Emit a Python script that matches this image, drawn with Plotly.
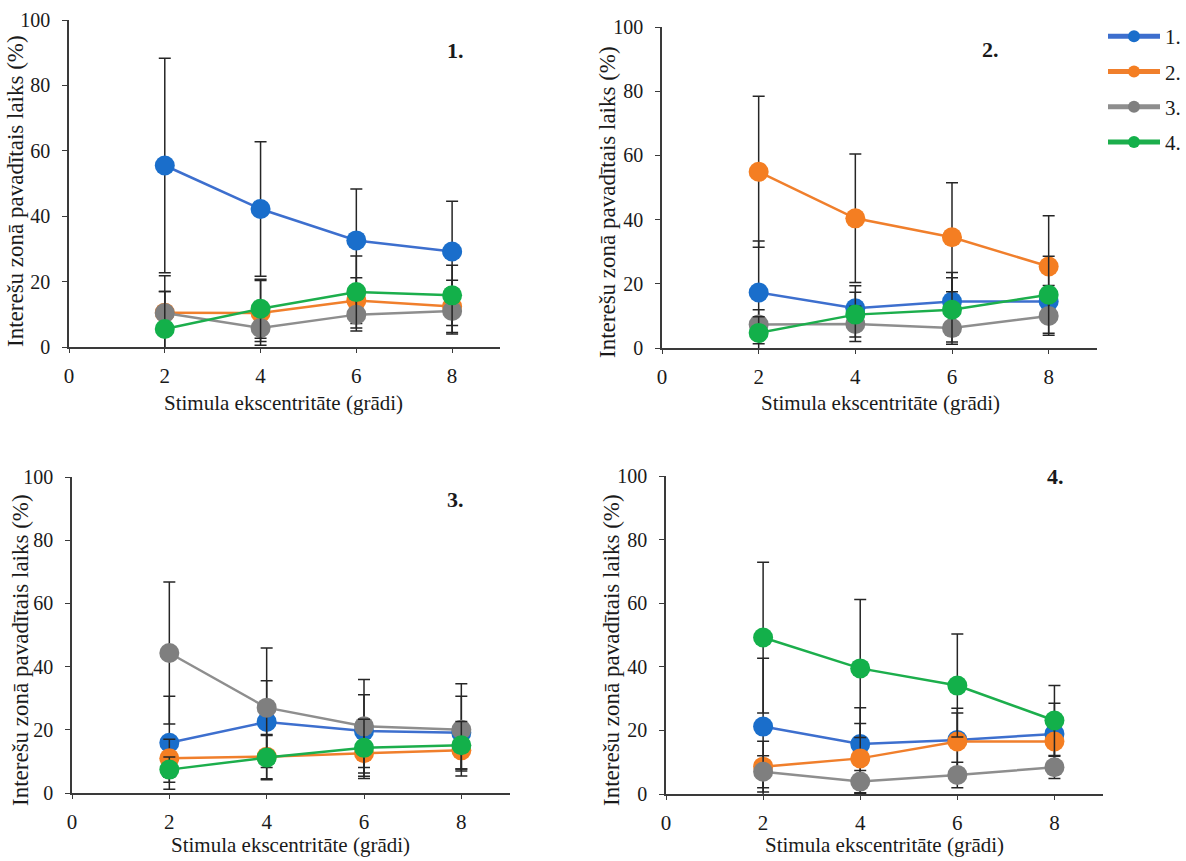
import plotly.graph_objects as go

x_vals = [2, 4, 6, 8]
series_names = ["1.", "2.", "3.", "4."]
panel_labels = ["1.", "2.", "3.", "4."]
x_ticks = [0, 2, 4, 6, 8]
y_ticks = [0, 20, 40, 60, 80, 100]

# Panel 1
p1_s1 = [55.5, 42.2, 32.6, 29.2]
p1_s1_err = [32.8, 20.6, 15.7, 15.4]
p1_s2 = [10.5, 10.4, 14.2, 12.4]
p1_s2_err = [11.3, 9.9, 7.0, 8.0]
p1_s3 = [10.4, 5.8, 9.9, 11.0]
p1_s3_err = [6.6, 4.1, 5.0, 7.0]
p1_s4 = [5.5, 11.7, 16.8, 15.8]
p1_s4_err = [11.5, 9.0, 11.0, 9.2]

# Panel 2
p2_s1 = [17.3, 12.4, 14.5, 14.5]
p2_s1_err = [16.0, 7.0, 9.0, 5.0]
p2_s2 = [54.9, 40.4, 34.5, 25.4]
p2_s2_err = [23.5, 20.0, 17.0, 15.8]
p2_s3 = [7.3, 7.5, 6.2, 10.0]
p2_s3_err = [4.6, 5.5, 5.0, 6.0]
p2_s4 = [4.7, 10.4, 11.9, 16.6]
p2_s4_err = [5.0, 7.0, 10.0, 12.0]

# Panel 3
p3_s1 = [15.9, 22.5, 19.6, 19.1]
p3_s1_err = [14.7, 13.0, 11.5, 11.5]
p3_s2 = [11.0, 11.5, 12.6, 13.5]
p3_s2_err = [6.0, 7.0, 8.0, 6.5]
p3_s3 = [44.3, 27.0, 21.1, 20.0]
p3_s3_err = [22.5, 18.9, 14.8, 14.6]
p3_s4 = [7.4, 11.2, 14.3, 15.1]
p3_s4_err = [4.0, 7.0, 9.0, 7.5]

# Panel 4
p4_s1 = [21.2, 15.7, 17.0, 18.9]
p4_s1_err = [21.5, 11.4, 10.0, 9.6]
p4_s2 = [8.6, 11.2, 16.5, 16.5]
p4_s2_err = [8.0, 11.0, 9.0, 8.0]
p4_s3 = [7.0, 3.9, 6.0, 8.4]
p4_s3_err = [5.0, 3.5, 4.0, 3.5]
p4_s4 = [49.2, 39.5, 34.1, 23.1]
p4_s4_err = [23.7, 21.7, 16.2, 11.0]

panels = [
    [(p1_s1, p1_s1_err), (p1_s2, p1_s2_err), (p1_s3, p1_s3_err), (p1_s4, p1_s4_err)],
    [(p2_s1, p2_s1_err), (p2_s2, p2_s2_err), (p2_s3, p2_s3_err), (p2_s4, p2_s4_err)],
    [(p3_s1, p3_s1_err), (p3_s2, p3_s2_err), (p3_s3, p3_s3_err), (p3_s4, p3_s4_err)],
    [(p4_s1, p4_s1_err), (p4_s2, p4_s2_err), (p4_s3, p4_s3_err), (p4_s4, p4_s4_err)],
]

line_colors = ["#3d6fce", "#f07f2c", "#8e8e8e", "#1cae4c"]
marker_colors = ["#1a6ecb", "#f47e22", "#7f7f7f", "#13b04a"]

W, H = 1186, 861
# axes boxes in pixels: (left, right, top, bottom)
boxes = [
    (69, 500, 20, 347),
    (662, 1097, 27, 348),
    (72, 510, 477, 793),
    (666, 1103, 476, 794),
]
label_pos = [(455, 51), (990, 50), (455, 499), (1055, 476)]
xtitle_pos = [(283, 403), (880, 403), (290, 845), (884, 845)]
ytitle_pos = [(16, 191), (608, 202), (20, 650), (611, 650)]

FONT = "Liberation Serif"
TXT = "#1a1a1a"

fig = go.Figure()
layout = dict(
    width=W, height=H,
    margin=dict(l=0, r=0, t=0, b=0, pad=0, autoexpand=False),
    paper_bgcolor="white", plot_bgcolor="white",
    font=dict(family=FONT, color=TXT, size=21),
    showlegend=True,
    legend=dict(
        x=1.0, y=1 - 16 / H, xanchor="right", yanchor="top",
        font=dict(family=FONT, size=21, color=TXT),
        tracegroupgap=5, itemsizing="constant", itemwidth=52,
        bgcolor="rgba(0,0,0,0)",
    ),
)
annotations = []

for p, data in enumerate(panels):
    n = "" if p == 0 else str(p + 1)
    l, r, t, b = boxes[p]
    layout["xaxis" + n] = dict(
        domain=[l / W, r / W], range=[0, 9], tickvals=x_ticks,
        showline=True, linecolor="#3a3a3a", linewidth=1.6,
        ticks="outside", ticklen=4, tickcolor="#3a3a3a",
        showgrid=False, zeroline=False, ticklabelstandoff=5,
        anchor="y" + n, tickfont=dict(size=21), automargin=False,
    )
    layout["yaxis" + n] = dict(
        domain=[1 - b / H, 1 - t / H], range=[0, 100], tickvals=y_ticks,
        showline=True, linecolor="#3a3a3a", linewidth=1.6,
        ticks="outside", ticklen=5, tickcolor="#3a3a3a",
        showgrid=False, zeroline=False, ticklabelstandoff=8,
        anchor="x" + n, tickfont=dict(size=20), automargin=False,
    )
    for s, (vals, errs) in enumerate(data):
        fig.add_trace(go.Scatter(
            x=x_vals, y=vals, name=series_names[s],
            xaxis="x" + n, yaxis="y" + n,
            mode="lines+markers",
            line=dict(color=line_colors[s], width=2.5),
            marker=dict(color=marker_colors[s], size=20),
            error_y=dict(type="data", array=errs, visible=True,
                         color="#262626", thickness=1.5, width=6),
            showlegend=(p == 0), legendgroup="g" + str(s),
        ))
    lx, ly = label_pos[p]
    annotations.append(dict(
        text="<b>" + panel_labels[p] + "</b>", x=lx / W, y=1 - ly / H,
        xref="paper", yref="paper", showarrow=False,
        font=dict(size=22, family=FONT, color=TXT), xanchor="center", yanchor="middle",
    ))
    tx, ty = xtitle_pos[p]
    annotations.append(dict(
        text="Stimula ekscentritāte (grādi)", x=tx / W, y=1 - ty / H,
        xref="paper", yref="paper", showarrow=False,
        font=dict(size=21, family=FONT, color=TXT), xanchor="center", yanchor="middle",
    ))
    yx, yy = ytitle_pos[p]
    annotations.append(dict(
        text="Interešu zonā pavadītais laiks (%)", x=yx / W, y=1 - yy / H,
        xref="paper", yref="paper", showarrow=False, textangle=-90,
        font=dict(size=23, family=FONT, color=TXT), xanchor="center", yanchor="middle",
    ))

layout["annotations"] = annotations
fig.update_layout(**layout)
fig.write_html("out.html")
